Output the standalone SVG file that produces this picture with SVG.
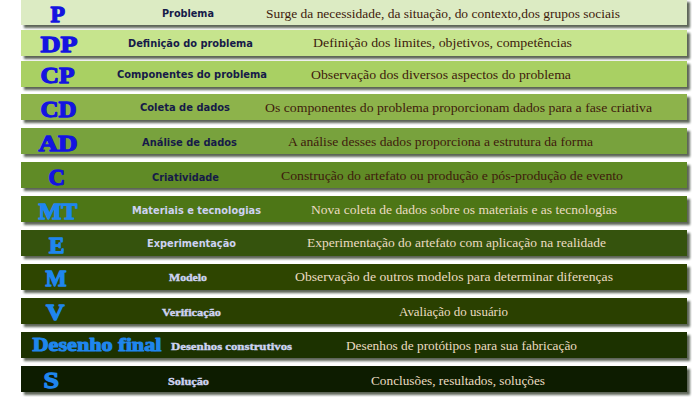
<svg xmlns="http://www.w3.org/2000/svg" width="700" height="400" viewBox="0 0 700 400">
<defs>
<filter id="sh" x="-5%" y="-30%" width="110%" height="170%">
<feDropShadow dx="3" dy="3" stdDeviation="1.2" flood-color="#2a3322" flood-opacity="0.75"/>
</filter>
</defs>
<style>
.bar{filter:url(#sh);}
.ab{font-family:"Liberation Serif","Times New Roman",serif;font-weight:bold;font-size:24px;stroke-width:1.3px;stroke-linejoin:round;}
.ab1{fill:#1414e0;stroke:#1414e0;}
.ab2{fill:#1f86ee;stroke:#1f86ee;}
.lb{font-family:"DejaVu Sans",Verdana,sans-serif;font-weight:bold;font-size:10px;}
.lbs{font-family:"Liberation Serif","Times New Roman",serif;font-weight:bold;font-size:11px;stroke-width:0.4px;}
.lb1{fill:#161a48;}
.lb2{fill:#cdd2f2;}
.lbs.lb2{stroke:#cdd2f2;}
.ds{font-family:"Liberation Serif","Times New Roman",serif;font-size:13px;}
.ds1{fill:#3e1a0c;}
.ds2{fill:#ecdcc2;}
</style>
<rect width="700" height="400" fill="#ffffff"/>
<g id="row-P">
<rect class="bar" x="21" y="-1" width="666" height="26" fill="#dcebc3"/>
<text class="ab ab1" x="50.5" y="22" textLength="14.5" lengthAdjust="spacingAndGlyphs">P</text>
<text class="lb lb1" x="162" y="17" textLength="52" lengthAdjust="spacingAndGlyphs">Problema</text>
<text class="ds ds1" x="266" y="17.5" textLength="354" lengthAdjust="spacingAndGlyphs">Surge da necessidade, da situação, do contexto,dos grupos sociais</text>
</g>
<g id="row-DP">
<rect class="bar" x="21" y="30" width="666" height="26" fill="#c6e48d"/>
<text class="ab ab1" x="40.5" y="52" textLength="37" lengthAdjust="spacingAndGlyphs">DP</text>
<text class="lb lb1" x="128" y="47" textLength="125" lengthAdjust="spacingAndGlyphs">Definição do problema</text>
<text class="ds ds1" x="313" y="47" textLength="259" lengthAdjust="spacingAndGlyphs">Definição dos limites, objetivos, competências</text>
</g>
<g id="row-CP">
<rect class="bar" x="21" y="61" width="666" height="26" fill="#a9d064"/>
<text class="ab ab1" x="40.5" y="83" textLength="34" lengthAdjust="spacingAndGlyphs">CP</text>
<text class="lb lb1" x="117" y="78" textLength="150" lengthAdjust="spacingAndGlyphs">Componentes do problema</text>
<text class="ds ds1" x="311" y="78.5" textLength="260" lengthAdjust="spacingAndGlyphs">Observação dos diversos aspectos do problema</text>
</g>
<g id="row-CD">
<rect class="bar" x="21" y="94" width="666" height="26" fill="#8db34c"/>
<text class="ab ab1" x="40.5" y="116.5" textLength="36" lengthAdjust="spacingAndGlyphs">CD</text>
<text class="lb lb1" x="140" y="111" textLength="90" lengthAdjust="spacingAndGlyphs">Coleta de dados</text>
<text class="ds ds1" x="265" y="111.5" textLength="387" lengthAdjust="spacingAndGlyphs">Os componentes do problema proporcionam dados para a fase criativa</text>
</g>
<g id="row-AD">
<rect class="bar" x="21" y="128" width="666" height="26" fill="#78a23c"/>
<text class="ab ab1" x="38.5" y="150.5" textLength="39" lengthAdjust="spacingAndGlyphs">AD</text>
<text class="lb lb1" x="142" y="146" textLength="95" lengthAdjust="spacingAndGlyphs">Análise de dados</text>
<text class="ds ds1" x="288" y="145.5" textLength="305" lengthAdjust="spacingAndGlyphs">A análise desses dados proporciona a estrutura da forma</text>
</g>
<g id="row-C">
<rect class="bar" x="21" y="162" width="666" height="26" fill="#608b27"/>
<text class="ab ab1" x="48.5" y="184.5" textLength="16.5" lengthAdjust="spacingAndGlyphs">C</text>
<text class="lb lb1" x="152" y="181" textLength="67" lengthAdjust="spacingAndGlyphs">Criatividade</text>
<text class="ds ds1" x="281" y="180" textLength="342" lengthAdjust="spacingAndGlyphs">Construção do artefato ou produção e pós-produção de evento</text>
</g>
<g id="row-MT">
<rect class="bar" x="21" y="196" width="666" height="26" fill="#4e7612"/>
<text class="ab ab2" x="38.5" y="218.5" textLength="39" lengthAdjust="spacingAndGlyphs">MT</text>
<text class="lb lb2" x="132" y="214" textLength="129" lengthAdjust="spacingAndGlyphs">Materiais e tecnologias</text>
<text class="ds ds2" x="311" y="214" textLength="306" lengthAdjust="spacingAndGlyphs">Nova coleta de dados sobre os materiais e as tecnologias</text>
</g>
<g id="row-E">
<rect class="bar" x="21" y="230" width="666" height="26" fill="#36520a"/>
<text class="ab ab2" x="49" y="252.5" textLength="15.5" lengthAdjust="spacingAndGlyphs">E</text>
<text class="lb lb2" x="147" y="247" textLength="89" lengthAdjust="spacingAndGlyphs">Experimentação</text>
<text class="ds ds2" x="307" y="247" textLength="299" lengthAdjust="spacingAndGlyphs">Experimentação do artefato com aplicação na realidade</text>
</g>
<g id="row-M">
<rect class="bar" x="21" y="264" width="666" height="26" fill="#2e4506"/>
<text class="ab ab2" x="45.5" y="286" textLength="21" lengthAdjust="spacingAndGlyphs">M</text>
<text class="lbs lb2" x="169" y="281" textLength="38" lengthAdjust="spacingAndGlyphs">Modelo</text>
<text class="ds ds2" x="295" y="281" textLength="318" lengthAdjust="spacingAndGlyphs">Observação de outros modelos para determinar diferenças</text>
</g>
<g id="row-V">
<rect class="bar" x="21" y="298" width="666" height="26" fill="#2b4005"/>
<text class="ab ab2" x="46" y="320" textLength="18.5" lengthAdjust="spacingAndGlyphs">V</text>
<text class="lbs lb2" x="162" y="316" textLength="59" lengthAdjust="spacingAndGlyphs">Verificação</text>
<text class="ds ds2" x="399" y="316" textLength="109" lengthAdjust="spacingAndGlyphs">Avaliação do usuário</text>
</g>
<g id="row-DF">
<rect class="bar" x="21" y="332" width="666" height="26" fill="#1e3003"/>
<text class="ab ab2" x="32.5" y="350.5" style="font-size:18px;stroke-width:1px" textLength="129" lengthAdjust="spacingAndGlyphs">Desenho final</text>
<text class="lbs lb2" x="171" y="350" textLength="121" lengthAdjust="spacingAndGlyphs">Desenhos construtivos</text>
<text class="ds ds2" x="346" y="350" textLength="231" lengthAdjust="spacingAndGlyphs">Desenhos de protótipos para sua fabricação</text>
</g>
<g id="row-S">
<rect class="bar" x="21" y="366" width="666" height="26" fill="#0f1a00"/>
<text class="ab ab2" x="43.5" y="388" textLength="15.5" lengthAdjust="spacingAndGlyphs">S</text>
<text class="lbs lb2" x="168" y="384.5" textLength="41" lengthAdjust="spacingAndGlyphs">Solução</text>
<text class="ds ds2" x="371" y="384.5" textLength="174" lengthAdjust="spacingAndGlyphs">Conclusões, resultados, soluções</text>
</g>
</svg>
